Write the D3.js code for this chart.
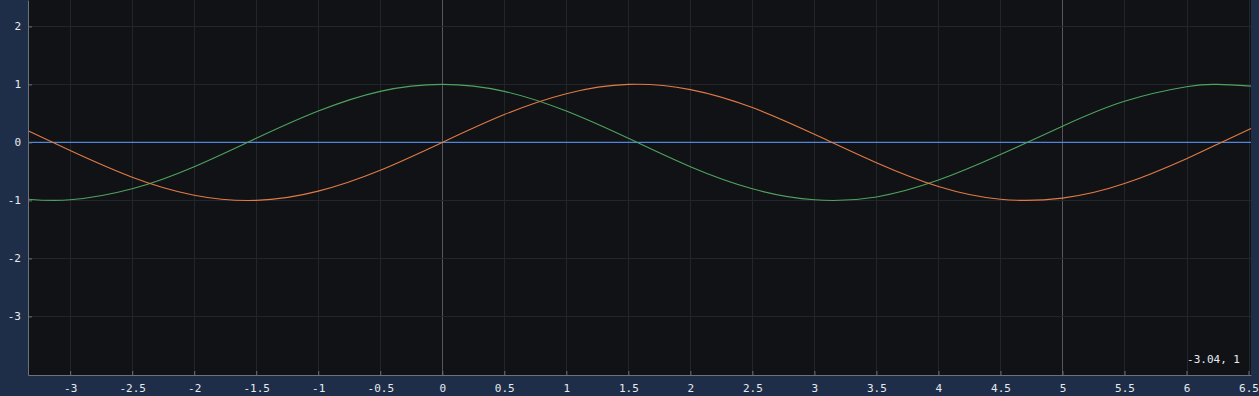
<!DOCTYPE html>
<html>
<head>
<meta charset="utf-8">
<script src="https://cdn.jsdelivr.net/npm/d3@7"></script>
<style>
  html, body { margin: 0; padding: 0; background: #1e2e48; }
  svg { display: block; }
</style>
</head>
<body>
<main></main>
<script>
// sample points
let xs     = [-3.34, -3, -2.5, -2, -1.5, -1, -0.5, 0, 0.5, 1, 1.5, 2, 2.5, 3, 3.5, 4, 4.5, 5, 5.5, 6, 6.25, 6.52]
let sinYs  = [0.20, -0.14, -0.60, -0.91, -1.00, -0.84, -0.48, 0, 0.48, 0.84, 1.00, 0.91, 0.60, 0.14, -0.35, -0.76, -0.98, -0.96, -0.71, -0.28, -0.03, 0.24]
let cosYs  = [-0.98, -0.99, -0.80, -0.42, 0.07, 0.54, 0.88, 1, 0.88, 0.54, 0.07, -0.42, -0.80, -0.99, -0.94, -0.65, -0.21, 0.28, 0.71, 0.96, 1.00, 0.97]
let zeroYs = [0, 0]
let zeroXs = [-3.34, 6.52]

let xTicks = [-3, -2.5, -2, -1.5, -1, -0.5, 0, 0.5, 1, 1.5, 2, 2.5, 3, 3.5, 4, 4.5, 5, 5.5, 6, 6.5]
let yTicks = [2, 1, 0, -1, -2, -3]
let markedXs = [0, 5]
let readout = "-3.04, 1"

const svgWidth = 1259
const svgHeight = 396

const plotLeft = 28
const plotRight = 1251
const plotTop = 0
const plotBottom = 375

let svg = d3.select("main")
    .append("svg")
    .attr("width", svgWidth)
    .attr("height", svgHeight)
    .style("background-color", "#1e2e48")

//scales
let xScale = d3.scaleLinear()
    .domain([-3.34, 6.52])
    .range([plotLeft, plotRight])

let yScale = d3.scaleLinear()
    .domain([-4.01, 2.455])
    .range([plotBottom, plotTop])

//plot background
svg.append("rect")
    .attr("x", plotLeft)
    .attr("y", plotTop)
    .attr("width", plotRight - plotLeft)
    .attr("height", plotBottom - plotTop)
    .attr("fill", "#111215")

//grid
let grid = svg.append("g")
grid.selectAll(".vgrid")
    .data(xTicks)
    .enter()
    .append("line")
    .attr("x1", (d) => Math.round(xScale(d)) + 0.5)
    .attr("x2", (d) => Math.round(xScale(d)) + 0.5)
    .attr("y1", plotTop)
    .attr("y2", plotBottom)
    .attr("stroke", (d) => markedXs.includes(d) ? "#53565b" : "#222529")

grid.selectAll(".hgrid")
    .data(yTicks)
    .enter()
    .append("line")
    .attr("x1", plotLeft)
    .attr("x2", plotRight)
    .attr("y1", (d) => Math.round(yScale(d)) + 0.5)
    .attr("y2", (d) => Math.round(yScale(d)) + 0.5)
    .attr("stroke", "#222529")

//curves
let line = d3.line()
    .x((d) => xScale(d[0]))
    .y((d) => yScale(d[1]))
    .curve(d3.curveNatural)

let curves = svg.append("g")
    .attr("fill", "none")
    .attr("stroke-width", 1.1)

curves.append("path")
    .datum(d3.zip(zeroXs, zeroYs))
    .attr("d", line)
    .attr("stroke", "#4f86dc")

curves.append("path")
    .datum(d3.zip(xs, cosYs))
    .attr("d", line)
    .attr("stroke", "#4ea45e")

curves.append("path")
    .datum(d3.zip(xs, sinYs))
    .attr("d", line)
    .attr("stroke", "#e07b45")

//axes
const fmt = (d) => String(d)

let bottomAxis = d3.axisBottom(xScale)
    .tickValues(xTicks)
    .tickFormat(fmt)
    .tickSizeInner(-4)
    .tickSizeOuter(0)
    .tickPadding(9)

let xAxis = svg.append("g")
    .attr("transform", `translate(0, ${plotBottom})`)
    .call(bottomAxis)

let leftAxis = d3.axisLeft(yScale)
    .tickValues(yTicks)
    .tickFormat(fmt)
    .tickSizeInner(-4)
    .tickSizeOuter(0)
    .tickPadding(7)

let yAxis = svg.append("g")
    .attr("transform", `translate(${plotLeft}, 0)`)
    .call(leftAxis)

for (let ax of [xAxis, yAxis]) {
    ax.select(".domain").attr("stroke", "#6d7178")
    ax.selectAll("line").attr("stroke", "#6d7178")
    ax.selectAll("text")
        .attr("fill", "#e6ebf2")
        .style("font-family", "'DejaVu Sans Mono', monospace")
        .style("font-size", "11px")
}

//readout
svg.append("text")
    .attr("x", 1240)
    .attr("y", 363)
    .attr("text-anchor", "end")
    .attr("fill", "#e6ebf2")
    .style("font-family", "'DejaVu Sans Mono', monospace")
    .style("font-size", "11px")
    .text(readout)
</script>
</body>
</html>
